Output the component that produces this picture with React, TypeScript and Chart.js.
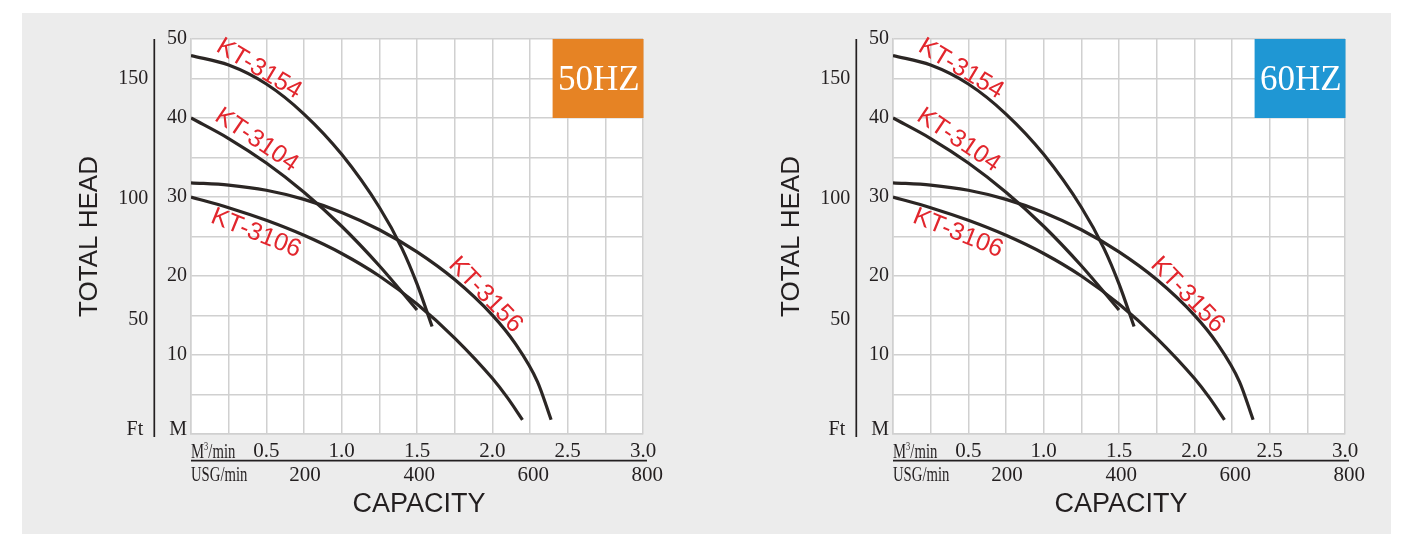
import React, { useEffect, useRef } from 'react';
import { Chart, registerables } from 'chart.js';

Chart.register(...registerables);

// ---- Data (flow in m³/min, head in m) ----
const FLOW_3154 = [0, 0.25, 0.5, 0.75, 1.0, 1.25, 1.4, 1.5, 1.6];
const HEAD_3154 = [47.9, 46.7, 44.3, 40.5, 35.4, 28.7, 23.5, 19.0, 13.6];
const FLOW_3104 = [0, 0.25, 0.5, 0.75, 1.0, 1.25, 1.5];
const HEAD_3104 = [40.0, 37.4, 34.3, 30.6, 26.3, 21.3, 15.7];
const FLOW_3156 = [0, 0.25, 0.5, 0.75, 1.0, 1.25, 1.5, 1.75, 2.0, 2.15, 2.3, 2.39];
const HEAD_3156 = [31.8, 31.5, 30.85, 29.7, 28.05, 25.85, 23.05, 19.55, 15.05, 11.5, 6.6, 1.8];
const FLOW_3106 = [0, 0.25, 0.5, 0.75, 1.0, 1.25, 1.5, 1.75, 2.0, 2.1, 2.2];
const HEAD_3106 = [30.0, 28.65, 27.05, 25.15, 22.85, 20.0, 16.45, 12.15, 7.05, 4.6, 1.8];

const MODELS = ['KT-3154', 'KT-3104', 'KT-3156', 'KT-3106'];
const FLOWS = [FLOW_3154, FLOW_3104, FLOW_3156, FLOW_3106];
const HEADS = [HEAD_3154, HEAD_3104, HEAD_3156, HEAD_3106];
// label anchors in data units (flow, head)
const LABEL_FLOW = [0.451, 0.435, 1.955, 0.431];
const LABEL_HEAD = [46.2, 37.2, 17.6, 25.4];
const LABEL_ANGLE = [31, 34, 46, 22];

const M_MAX = 50;
const M_STEP = 5;
const FLOW_MAX = 3.0;
const FLOW_STEP = 0.25;
const FT_TICKS = [50, 100, 150];
const USG_TICKS = [200, 400, 600, 800];
const FT_TO_M = 0.3048;
const USG_TO_M3 = 0.0037854;

const FREQS = ['50HZ', '60HZ'];
const BADGE_COLORS = ['#e68324', '#1f97d4'];
const BADGE_FLOW_FROM = 2.4;
const BADGE_HEAD_FROM = 40;

const SERIF = '"Liberation Serif", "Times New Roman", serif';
const SANS = '"Liberation Sans", Arial, sans-serif';
const INK = '#231f20';
const CURVE = '#2b2624';
const RED = '#e2262d';
const GRID = '#d0d0d0';

const CW = 667;
const CH = 521;

function condensedText(ctx: CanvasRenderingContext2D, text: string, x: number, y: number, size: number, sx: number) {
  ctx.save();
  ctx.translate(x, y);
  ctx.scale(sx, 1);
  ctx.font = `${size}px ${SERIF}`;
  ctx.textAlign = 'left';
  ctx.textBaseline = 'alphabetic';
  ctx.fillText(text, 0, 0);
  const w = ctx.measureText(text).width * sx;
  ctx.restore();
  return w;
}

function makePlugin(freq: string, color: string) {
  return {
    id: 'pumpDecor',
    beforeDraw(chart: any) {
      const { ctx, chartArea: a } = chart;
      ctx.save();
      ctx.fillStyle = '#ffffff';
      ctx.fillRect(a.left, a.top, a.right - a.left, a.bottom - a.top);
      ctx.restore();
    },
    afterDraw(chart: any) {
      const ctx: CanvasRenderingContext2D = chart.ctx;
      const xs = chart.scales.x;
      const ys = chart.scales.y;
      const L = xs.left, R = xs.right, T = ys.top, B = ys.bottom;
      ctx.save();

      // frequency badge
      const bx = xs.getPixelForValue(BADGE_FLOW_FROM);
      const by0 = ys.getPixelForValue(M_MAX);
      const by1 = ys.getPixelForValue(BADGE_HEAD_FROM);
      ctx.fillStyle = color;
      ctx.fillRect(bx, by0, R - bx + 0.5, by1 - by0);
      ctx.fillStyle = '#ffffff';
      ctx.font = `35px ${SERIF}`;
      ctx.textAlign = 'center';
      ctx.textBaseline = 'alphabetic';
      ctx.fillText(freq, (bx + R) / 2 + 1, by0 + 51);

      // curve labels
      ctx.fillStyle = RED;
      ctx.font = `25px ${SANS}`;
      ctx.textAlign = 'center';
      ctx.textBaseline = 'middle';
      MODELS.forEach((m, i) => {
        const px = xs.getPixelForValue(LABEL_FLOW[i]);
        const py = ys.getPixelForValue(LABEL_HEAD[i]);
        ctx.save();
        ctx.translate(px, py);
        ctx.rotate((LABEL_ANGLE[i] * Math.PI) / 180);
        ctx.fillText(m, 0, 0);
        ctx.restore();
      });

      // Ft axis line
      const ftX = L - 36.7;
      ctx.strokeStyle = INK;
      ctx.lineWidth = 1.7;
      ctx.beginPath();
      ctx.moveTo(ftX, T);
      ctx.lineTo(ftX, B + 3);
      ctx.stroke();

      // Ft labels
      ctx.fillStyle = INK;
      ctx.font = `20px ${SERIF}`;
      ctx.textAlign = 'right';
      ctx.textBaseline = 'alphabetic';
      FT_TICKS.forEach((ft) => {
        const py = ys.getPixelForValue(ft * FT_TO_M);
        ctx.fillText(String(ft), ftX - 6, py + 11);
      });
      ctx.fillText('Ft', ftX - 11, B + 1);
      ctx.fillText('M', L - 4, B + 1);

      // x-axis unit labels
      ctx.fillStyle = INK;
      const w = condensedText(ctx, 'M', L, B + 24, 21, 0.7);
      condensedText(ctx, '3', L + w, B + 16, 12, 0.7);
      condensedText(ctx, '/min', L + w + 4.3, B + 24, 21, 0.7);
      condensedText(ctx, 'USG/min', L, B + 46.5, 21, 0.7);

      // separator line
      ctx.strokeStyle = INK;
      ctx.lineWidth = 1.7;
      ctx.beginPath();
      ctx.moveTo(L, B + 26.7);
      ctx.lineTo(R + 4, B + 26.7);
      ctx.stroke();

      // USG labels
      ctx.font = `21px ${SERIF}`;
      ctx.textAlign = 'center';
      ctx.textBaseline = 'alphabetic';
      USG_TICKS.forEach((g) => {
        const px = xs.getPixelForValue(g * USG_TO_M3);
        ctx.fillText(String(g), px, B + 47);
      });

      // axis titles
      ctx.font = `26px ${SANS}`;
      ctx.textAlign = 'center';
      ctx.textBaseline = 'middle';
      ctx.save();
      ctx.translate(L - 101, (T + B) / 2);
      ctx.rotate(-Math.PI / 2);
      ctx.fillText('TOTAL HEAD', 0, 0);
      ctx.restore();
      ctx.font = `27px ${SANS}`;
      ctx.fillText('CAPACITY', (L + R) / 2 + 2, B + 71);

      ctx.restore();
    },
  };
}

function PumpChart({ idx, left }: { idx: number; left: number }) {
  const ref = useRef<HTMLCanvasElement>(null);
  useEffect(() => {
    const canvas = ref.current!;
    const chart = new Chart(canvas, {
      type: 'line',
      data: {
        datasets: MODELS.map((m, i) => ({
          label: m,
          data: FLOWS[i].map((x, j) => ({ x, y: HEADS[i][j] })),
          borderColor: CURVE,
          backgroundColor: CURVE,
          borderWidth: 3.2,
          pointRadius: 0,
          cubicInterpolationMode: 'monotone' as const,
          fill: false,
        })),
      },
      options: {
        responsive: false,
        animation: false,
        devicePixelRatio: 1,
        layout: { padding: { top: 26, right: 46, left: 0, bottom: 0 } },
        plugins: { legend: { display: false }, tooltip: { enabled: false } },
        scales: {
          x: {
            type: 'linear',
            min: 0,
            max: FLOW_MAX,
            afterFit: (s: any) => { s.height = 100; },
            grid: { color: GRID, lineWidth: 1.5, drawTicks: false },
            border: { color: GRID, width: 1.5 },
            ticks: {
              stepSize: FLOW_STEP,
              autoSkip: false,
              maxRotation: 0,
              padding: 5,
              color: INK,
              font: { family: SERIF, size: 21 },
              callback: (v: any) => {
                const q = Math.round(Number(v) * 4);
                return q % 2 === 0 && q > 0 ? (q / 4).toFixed(1) : '';
              },
            },
          },
          y: {
            type: 'linear',
            min: 0,
            max: M_MAX,
            afterFit: (s: any) => { s.width = 169; },
            grid: { color: GRID, lineWidth: 1.5, drawTicks: false },
            border: { color: GRID, width: 1.5 },
            ticks: {
              stepSize: M_STEP,
              autoSkip: false,
              padding: 4,
              color: INK,
              font: { family: SERIF, size: 20 },
              callback: (v: any) => {
                const n = Math.round(Number(v));
                return n % 10 === 0 && n > 0 ? String(n) : '';
              },
            },
          },
        },
      },
      plugins: [makePlugin(FREQS[idx], BADGE_COLORS[idx])],
    } as any);
    return () => chart.destroy();
  }, [idx]);
  return (
    <canvas
      ref={ref}
      width={CW}
      height={CH}
      style={{ position: 'absolute', left, top: 13, width: CW, height: CH }}
    />
  );
}

export default function App() {
  return (
    <div style={{ position: 'absolute', left: 0, top: 0, width: 1411, height: 534, background: '#ffffff', overflow: 'hidden' }}>
      <div style={{ position: 'absolute', left: 22, top: 13, width: 1369, height: 521, background: '#ececec' }} />
      <PumpChart idx={0} left={22} />
      <PumpChart idx={1} left={724} />
    </div>
  );
}
